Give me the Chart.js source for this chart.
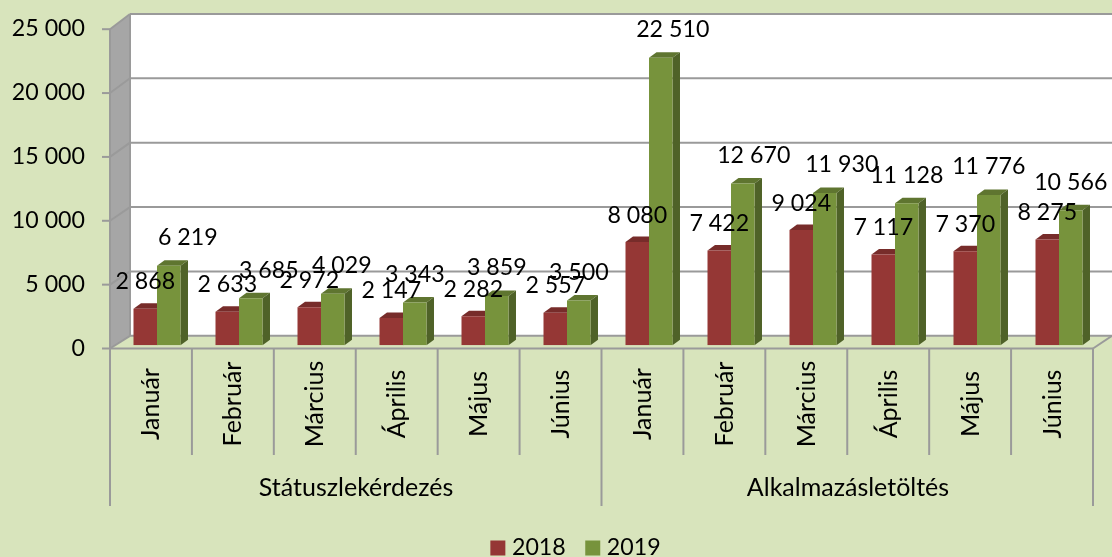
<!DOCTYPE html>
<html>
<head>
<meta charset="utf-8">
<title>Státuszlekérdezés és alkalmazásletöltés</title>
<script src="https://cdn.jsdelivr.net/npm/chart.js@4"></script>
<style>
    html, body { margin: 0; padding: 0; background: #D8E4BC; overflow: hidden; }
    canvas { display: block; }
</style>
</head>
<body>
<canvas id="grafikon" width="1112" height="557"></canvas>
<script>
const honapok = ['Január', 'Február', 'Március', 'Április', 'Május', 'Június',
                 'Január', 'Február', 'Március', 'Április', 'Május', 'Június'];
const csoportok = ['Státuszlekérdezés', 'Alkalmazásletöltés'];
const ertekek2018 = [2868, 2633, 2972, 2147, 2282, 2557, 8080, 7422, 9024, 7117, 7370, 8275];
const ertekek2019 = [6219, 3685, 4029, 3343, 3859, 3500, 22510, 12670, 11930, 11128, 11776, 10566];
// the source moved some 2019 labels sideways so they would not collide
const cimkeEltolas2019 = [19, 18, 9, 0, 0, 0, 12, 11, 17, 0, 0, 0];

const betu = 'Lato, sans-serif';
const szamMeret = 23.2;
const szovegMeret = 25;
const vonalSzin = '#9A9A9A';

function szamForma(ertek) {
    return String(ertek).replace(/\B(?=(\d{3})+$)/g, ' ');
}

function vonal(ctx, x1, y1, x2, y2) {
    ctx.beginPath();
    ctx.moveTo(x1, y1);
    ctx.lineTo(x2, y2);
    ctx.stroke();
}

function sokszog(ctx, szin, pontok) {
    ctx.fillStyle = szin;
    ctx.beginPath();
    pontok.forEach((p, i) => i ? ctx.lineTo(p[0], p[1]) : ctx.moveTo(p[0], p[1]));
    ctx.closePath();
    ctx.fill();
}

// walls, floor and the depth of the bars
const terPlugin = {
    id: 'ter',
    afterLayout(chart) {
        // legend sits centred over the plot, not over the whole canvas
        chart.legend.left += 28;
        chart.legend.right += 28;
    },
    beforeDatasetsDraw(chart) {
        const ctx = chart.ctx;
        const x = chart.scales.x;
        const y = chart.scales.y;
        const elolBal = x.left - 6;
        const elolJobb = x.right - 7;
        const hatulBal = elolBal + 20;
        const hatulJobb = elolJobb + 19;
        const elolY = v => y.getPixelForValue(v) + 3.2;
        const hatulY = v => y.bottom - 9.5 - (y.bottom - y.getPixelForValue(v)) * 1.008;
        const tetoErtek = y.max;

        ctx.save();
        sokszog(ctx, '#FFFFFF', [[hatulBal, hatulY(tetoErtek)], [hatulJobb, hatulY(tetoErtek)], [hatulJobb, hatulY(0)], [hatulBal, hatulY(0)]]);
        sokszog(ctx, '#A6A6A6', [[elolBal, elolY(tetoErtek)], [hatulBal, hatulY(tetoErtek)], [hatulBal, hatulY(0)], [elolBal, elolY(0)]]);

        ctx.strokeStyle = vonalSzin;
        ctx.lineWidth = 2;
        y.ticks.forEach(t => {
            vonal(ctx, elolBal - 8, elolY(t.value), elolBal, elolY(t.value));
            vonal(ctx, elolBal, elolY(t.value), hatulBal, hatulY(t.value));
            vonal(ctx, hatulBal, hatulY(t.value), hatulJobb, hatulY(t.value));
        });
        vonal(ctx, elolBal, elolY(tetoErtek), elolBal, elolY(0));
        vonal(ctx, hatulBal, hatulY(tetoErtek), hatulBal, hatulY(0));
        vonal(ctx, elolBal, elolY(0), elolJobb, elolY(0));
        vonal(ctx, elolJobb, elolY(0), hatulJobb, hatulY(0));

        // label boxes below the floor
        const lepes = (elolJobb - elolBal) / honapok.length;
        for (let i = 0; i <= honapok.length; i++) {
            vonal(ctx, elolBal + i * lepes, elolY(0), elolBal + i * lepes, i % 6 === 0 ? 506 : 455);
        }

        const melyX = 7.5;
        const melyY = 5.5;
        chart.data.datasets.forEach((ds, d) => {
            chart.getDatasetMeta(d).data.forEach(bar => {
                const bal = bar.x - bar.width / 2;
                const jobb = bar.x + bar.width / 2;
                sokszog(ctx, ds.tetoSzin, [[bal, bar.y], [bal + melyX, bar.y - melyY], [jobb + melyX, bar.y - melyY], [jobb, bar.y]]);
                sokszog(ctx, ds.oldalSzin, [[jobb, bar.y], [jobb + melyX, bar.y - melyY], [jobb + melyX, bar.base - melyY], [jobb, bar.base]]);
            });
        });
        ctx.restore();
    },
    afterDatasetsDraw(chart) {
        const ctx = chart.ctx;
        const x = chart.scales.x;
        ctx.save();
        ctx.fillStyle = '#000000';
        ctx.textAlign = 'center';
        ctx.textBaseline = 'middle';

        // value labels
        ctx.font = szamMeret + 'px ' + betu;
        chart.getDatasetMeta(0).data.forEach((bar, i) => {
            ctx.fillText(szamForma(ertekek2018[i]), bar.x, bar.y - 27);
        });
        chart.getDatasetMeta(1).data.forEach((bar, i) => {
            ctx.fillText(szamForma(ertekek2019[i]), bar.x + cimkeEltolas2019[i], bar.y - 28);
        });

        // months, rotated and centred in their boxes
        ctx.font = szovegMeret + 'px ' + betu;
        honapok.forEach((honap, i) => {
            ctx.save();
            ctx.translate(x.getPixelForTick(i) - 6, 404);
            ctx.rotate(-Math.PI / 2);
            ctx.fillText(honap, 0, 0);
            ctx.restore();
        });

        // group names under the months
        csoportok.forEach((csoport, i) => {
            const kozep = (x.getPixelForTick(i * 6) + x.getPixelForTick(i * 6 + 5)) / 2 - 6;
            ctx.fillText(csoport, kozep, 488);
        });
        ctx.restore();
    }
};

const grafikon = document.getElementById('grafikon');
new Chart(grafikon, {
    type: 'bar',
    data: {
        labels: honapok,
        datasets: [{
            label: '2018',
            data: ertekek2018,
            backgroundColor: '#953735',
            tetoSzin: '#772C2A',
            oldalSzin: '#632523',
            categoryPercentage: 0.573,
            barPercentage: 1
        }, {
            label: '2019',
            data: ertekek2019,
            backgroundColor: '#77933C',
            tetoSzin: '#5F7530',
            oldalSzin: '#4F6228',
            categoryPercentage: 0.573,
            barPercentage: 1
        }]
    },
    options: {
        responsive: false,
        animation: false,
        layout: { padding: { left: 0, right: 12, top: 26, bottom: -12.5 } },
        scales: {
            x: {
                grid: { display: false },
                border: { display: false },
                ticks: { display: false },
                afterFit(scale) { scale.height = 166.5; }
            },
            y: {
                min: 0,
                max: 25000,
                grid: { display: false },
                border: { display: false },
                ticks: {
                    stepSize: 5000,
                    padding: 23,
                    labelOffset: 3,
                    color: '#000000',
                    font: { family: betu, size: szamMeret },
                    callback: ertek => szamForma(ertek)
                },
                afterFit(scale) {
                    scale.width = 116;
                    scale.paddingTop = 0;
                    scale.paddingBottom = 0;
                }
            }
        },
        plugins: {
            tooltip: { enabled: false },
            legend: {
                position: 'bottom',
                labels: {
                    usePointStyle: true,
                    pointStyle: 'rect',
                    boxWidth: 5,
                    boxHeight: 15,
                    padding: 24.5,
                    color: '#000000',
                    font: { family: betu, size: szamMeret }
                }
            }
        }
    },
    plugins: [terPlugin]
});
</script>
</body>
</html>
